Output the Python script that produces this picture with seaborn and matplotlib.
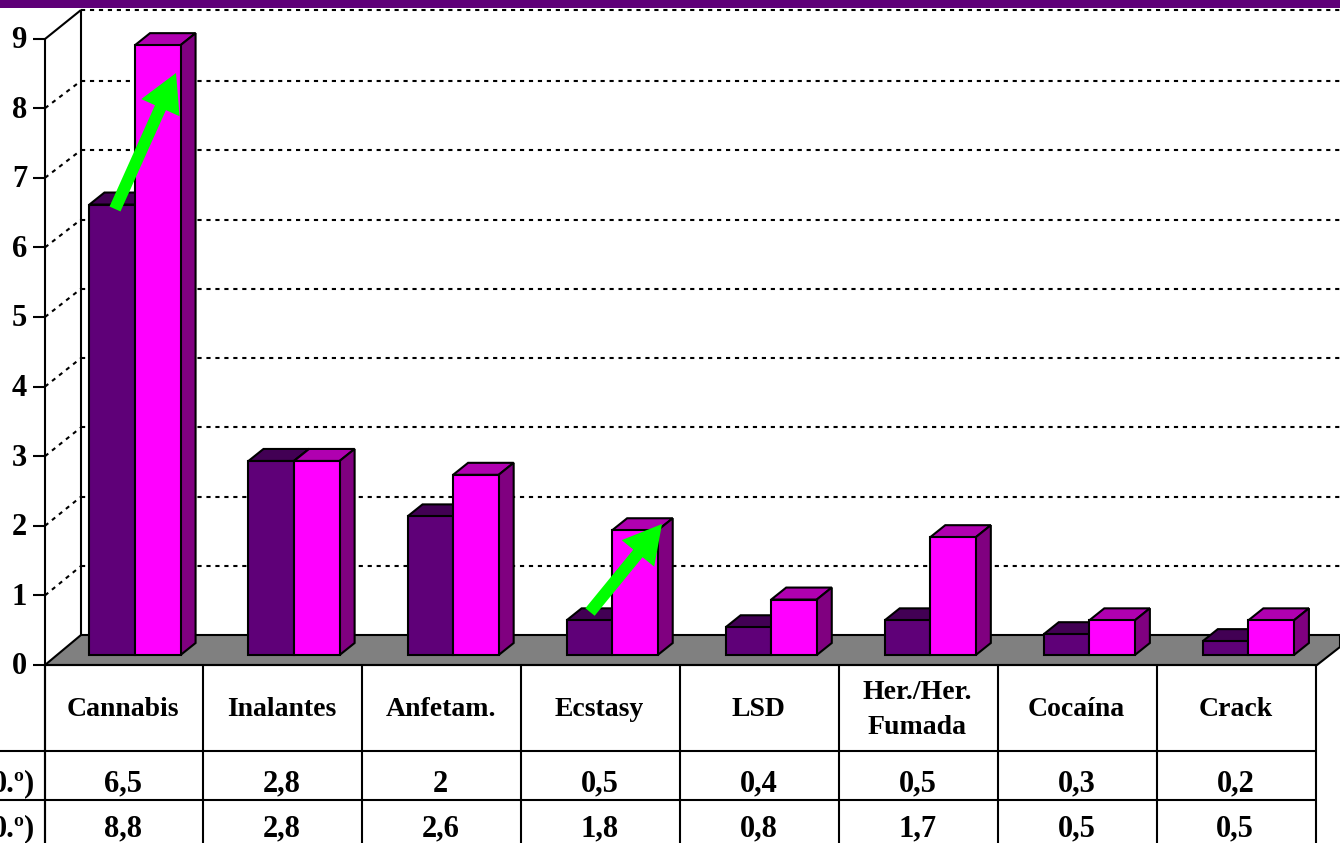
import matplotlib
matplotlib.use('Agg')
import matplotlib.pyplot as plt
from matplotlib.patches import Polygon, Rectangle
from matplotlib.transforms import Affine2D
import seaborn as sns
import pandas as pd

drogas = ['Cannabis', 'Inalantes', 'Anfetam.', 'Ecstasy', 'LSD', 'Her./Her.\nFumada', 'Cocaína', 'Crack']
serie_a = [6.5, 2.8, 2, 0.5, 0.4, 0.5, 0.3, 0.2]
serie_b = [8.8, 2.8, 2.6, 1.8, 0.8, 1.7, 0.5, 0.5]
etiq_a = ['6,5', '2,8', '2', '0,5', '0,4', '0,5', '0,3', '0,2']
etiq_b = ['8,8', '2,8', '2,6', '1,8', '0,8', '1,7', '0,5', '0,5']
fila_a = '0.º)'
fila_b = '0.º)'
y_ticks = list(range(10))

W, H = 1340, 843
PASO_X = 159.05
PASO_Y = 69.3

sns.set_style('white')
plt.rcParams['font.family'] = ['Liberation Serif', 'DejaVu Serif']
plt.rcParams['font.weight'] = 'bold'
plt.rcParams['text.color'] = 'black'

df = pd.DataFrame({'droga': drogas * 2,
                   'valor': serie_a + serie_b,
                   'serie': ['a'] * 8 + ['b'] * 8})

fig = plt.figure(figsize=(W / 100, H / 100), dpi=100)
ax = fig.add_axes([0, 0, 1, 1])
sns.barplot(data=df, x='droga', y='valor', hue='serie', order=drogas,
            palette={'a': '#5f0078', 'b': '#ff00ff'}, saturation=1, gap=0, width=0.573,
            edgecolor='black', linewidth=1.5, legend=False, ax=ax, zorder=3)
barras = list(ax.patches)
ax.set_xlim(-135 / PASO_X, (W - 135) / PASO_X)
ax.set_ylim((655 - H) / PASO_Y, 655 / PASO_Y)
ax.set_axis_off()

# coordenadas en pixeles, con origen arriba a la izquierda
px = Affine2D().scale(1, -1).translate(0, H)


def linea(xs, ys, lw=1.5, ls='-', z=1):
    ax.plot(xs, ys, color='black', lw=lw, ls=ls, transform=px, zorder=z, solid_capstyle='butt')


# banda superior
ax.add_patch(Rectangle((0, 0), W, 8, transform=px, color='#5f0078', zorder=1, lw=0))

# suelo
ax.add_patch(Polygon([(45, 665), (81, 635), (W, 635), (W, 647), (1317, 665)], closed=True, transform=px,
                     facecolor='#808080', edgecolor='black', lw=1.5, zorder=2))

# rejilla y ejes
estilo = (0, (2, 2.3))
for t in y_ticks:
    yf = 665 - 69.6 * t
    yb = 635.3 - PASO_Y * t
    if t > 0 and t < 9:
        linea([81, W], [yb, yb], lw=1.5, ls=estilo)
        linea([45, 81], [yf, yb], lw=1.5, ls=estilo)
    linea([33, 45], [yf, yf])
    ax.text(27, yf + 2, str(t), transform=px, ha='right', va='center', fontsize=22, zorder=6)
linea([81, W], [10, 10], lw=1.5, ls=estilo)
linea([45, 81], [39, 10])
linea([81, 81], [10, 635], lw=1.5)
linea([45, 45], [39, H], z=4)
linea([45, 1317], [665, 665], z=4)

# caras superior y lateral de las barras
dx = 15 / PASO_X
dy = 12 / PASO_Y
for n, barra in enumerate(barras):
    x0, w, h = barra.get_x(), barra.get_width(), barra.get_height()
    x1 = x0 + w
    col_top, col_lado = ('#420054', '#4a0060') if n < 8 else ('#b000b0', '#800080')
    ax.add_patch(Polygon([(x0, h), (x0 + dx, h + dy), (x1 + dx, h + dy), (x1, h)], closed=True,
                         facecolor=col_top, edgecolor='black', lw=1.5, zorder=2.5))
    ax.add_patch(Polygon([(x1, h), (x1 + dx, h + dy), (x1 + dx, dy), (x1, 0)], closed=True,
                         facecolor=col_lado, edgecolor='black', lw=1.5, zorder=2.5))

# tabla
for k in range(9):
    xc = 44.5 + 158.9 * k
    linea([xc, xc], [665, H], z=4)
linea([0, 1317], [751, 751], z=4)
linea([0, 1317], [800, 800], z=4)
for k, nombre in enumerate(drogas):
    xc = 43.5 + 158.9 * (k + 0.5)
    ax.text(xc, 710, nombre, transform=px, ha='center', va='center', fontsize=20, linespacing=1.5, zorder=5)
    ax.text(xc, 784, etiq_a[k], transform=px, ha='center', va='center', fontsize=22, zorder=5)
    ax.text(xc, 829, etiq_b[k], transform=px, ha='center', va='center', fontsize=22, zorder=5)
ax.text(35, 784, fila_a, transform=px, ha='right', va='center', fontsize=22, zorder=5)
ax.text(35, 829, fila_b, transform=px, ha='right', va='center', fontsize=22, zorder=5)

# flechas verdes
for x_ini, y_ini, x_fin, y_fin in [(115, 209, 176, 73), (590, 612, 662, 524)]:
    ax.arrow(x_ini, y_ini, x_fin - x_ini, y_fin - y_ini, width=12, head_width=42, head_length=38,
             length_includes_head=True, color='#00ff00', lw=0, transform=px, zorder=7)

fig.savefig('out.png', dpi=100)
